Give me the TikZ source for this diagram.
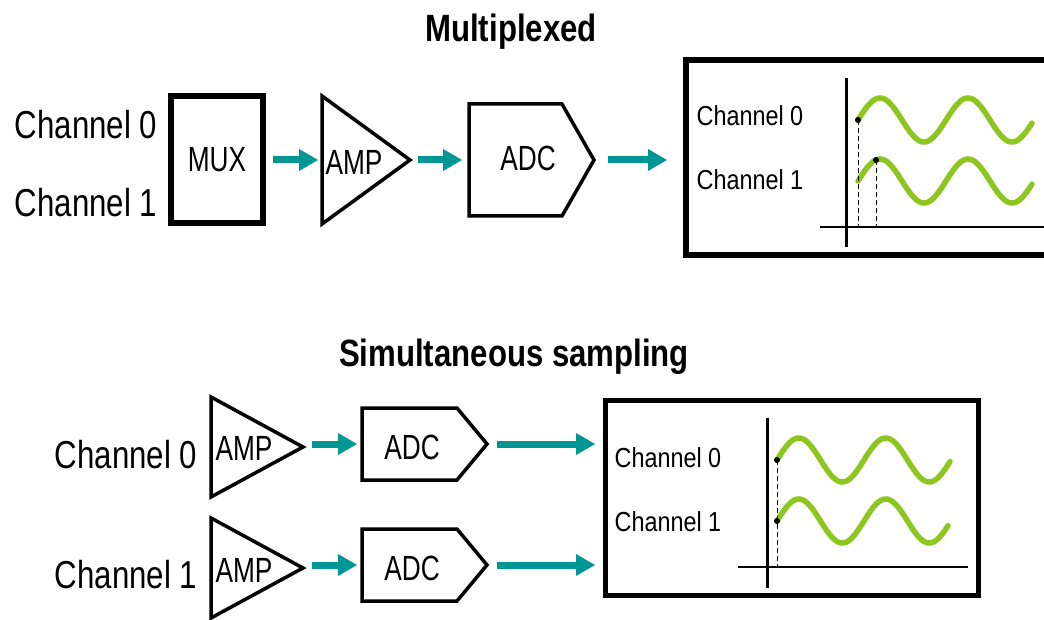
\documentclass[tikz,border=0pt]{standalone}
\usepackage{fontspec}
\newfontfamily\narrow[FakeStretch=0.8]{Liberation Sans}
\newfontfamily\blockfont[FakeStretch=0.75]{Liberation Sans}
\newfontfamily\plotfont[FakeStretch=0.85]{Liberation Sans}
\newfontfamily\headfont[FakeStretch=0.82]{Liberation Sans}
\usetikzlibrary{arrows.meta}
\definecolor{flowteal}{RGB}{0,150,150}
\definecolor{wavegreen}{RGB}{140,198,30}
\begin{document}
\begin{tikzpicture}[x=1pt,y=-1pt,
  box/.style={inner sep=0pt, outer sep=0pt},
  lbl/.style={inner sep=0pt, font={\blockfont\fontsize{35}{35}\selectfont}},
  chan/.style={inner sep=0pt, font={\narrow\fontsize{39}{39}\selectfont}},
  small/.style={inner sep=0pt, font={\plotfont\fontsize{27.5}{27.5}\selectfont}},
  title/.style={inner sep=0pt, anchor=base, font={\headfont\bfseries\fontsize{38}{38}\selectfont}},
  outline/.style={line width=3.5pt, line join=miter},
  flow/.style={draw=flowteal, line width=7pt, -{Triangle[length=19pt,width=22pt,line width=0pt]}},
  wave/.style={draw=wavegreen, line width=5.5pt, line cap=round},
  axis/.style={line width=3pt},
  guide/.style={line width=1pt, dash pattern=on 5pt off 3pt},
  sample/.style={circle, fill=black, inner sep=0pt, minimum size=6pt}]
\useasboundingbox (0,0) rectangle (1044,620);
\clip (0,0) rectangle (1044,620);

% ---------- Multiplexed ----------
\node[title] (t1) at (511,42) {Multiplexed};
\node[chan] (c0) at (86,125) {Channel 0};
\node[chan] (c1) at (86,203) {Channel 1};

\node[box, draw, line width=6pt, minimum width=92pt, minimum height=127pt, lbl] (mux) at (217,160) {MUX};

\node[box, minimum width=88pt, minimum height=128pt] (amp) at (366,160) {};
\draw[outline] (amp.north west) -- (amp.east) -- (amp.south west) -- cycle;
\node[lbl] (ampT) at (354,162) {AMP};

\node[box, minimum width=125pt, minimum height=112pt] (adc) at (531.5,160) {};
\draw[outline] (adc.north west) -- ([xshift=-32pt]adc.north east) -- (adc.east)
  -- ([xshift=-32pt]adc.south east) -- (adc.south west) -- cycle;
\node[lbl] (adcT) at (528,158) {ADC};

\node[box, draw, line width=6pt, minimum width=390pt, minimum height=195pt] (plotA) at (881,157.5) {};

\draw[flow, shorten <=10pt, shorten >=4pt] (mux.east) -- (mux.east -| amp.west);
\draw[flow, shorten <=8pt, shorten >=7pt] (amp.east) -- (amp.east -| adc.west);
\draw[flow, shorten <=14pt, shorten >=19pt] (adc.east) -- (adc.east -| plotA.west);

% sampled signals, one after the other
\node[small] (pa0) at (750,116) {Channel 0};
\node[small] (pa1) at (750,180) {Channel 1};
\draw[axis] (846,78) -- (846,247);
\draw[axis, line width=2.5pt] (820,227) -- (1050,227);
\draw[wave] plot[domain=858:1032, samples=120] (\x,{120-22*sin(4.0909*(\x-858))});
\draw[wave] plot[domain=858:1032, samples=120] (\x,{181-22*sin(4.0909*(\x-858))});
\node[sample] (sa0) at (858,120) {};
\node[sample] (sa1) at (876,160) {};
\draw[guide] (sa0.center) -- (858,228);
\draw[guide] (sa1.center) -- (876,228);

% ---------- Simultaneous sampling ----------
\node[title] (t2) at (514,366) {Simultaneous sampling};
\node[chan] (d0) at (126,455) {Channel 0};
\node[chan] (d1) at (126,575) {Channel 1};

\node[box, minimum width=92pt, minimum height=100pt] (amp0) at (257,447) {};
\draw[outline] (amp0.north west) -- (amp0.east) -- (amp0.south west) -- cycle;
\node[lbl] (amp0T) at (244,448) {AMP};
\node[box, minimum width=92pt, minimum height=100pt] (amp1) at (257,568) {};
\draw[outline] (amp1.north west) -- (amp1.east) -- (amp1.south west) -- cycle;
\node[lbl] (amp1T) at (244,570) {AMP};

\node[box, minimum width=125pt, minimum height=72pt] (adc0) at (424.5,444) {};
\draw[outline] (adc0.north west) -- ([xshift=-30pt]adc0.north east) -- (adc0.east)
  -- ([xshift=-30pt]adc0.south east) -- (adc0.south west) -- cycle;
\node[lbl] (adc0T) at (412,447) {ADC};
\node[box, minimum width=125pt, minimum height=72pt] (adc1) at (424.5,565) {};
\draw[outline] (adc1.north west) -- ([xshift=-30pt]adc1.north east) -- (adc1.east)
  -- ([xshift=-30pt]adc1.south east) -- (adc1.south west) -- cycle;
\node[lbl] (adc1T) at (412,568) {ADC};

\node[box, draw, line width=5pt, minimum width=373pt, minimum height=195pt] (plotB) at (791.5,497.5) {};

\draw[flow, shorten <=9pt, shorten >=5pt] (adc0.west -| amp0.east) -- (adc0.west);
\draw[flow, shorten <=9pt, shorten >=5pt] (adc1.west -| amp1.east) -- (adc1.west);
\draw[flow, shorten <=10pt, shorten >=10pt] (adc0.east) -- (adc0.east -| plotB.west);
\draw[flow, shorten <=10pt, shorten >=10pt] (adc1.east) -- (adc1.east -| plotB.west);

% sampled signals, at the same instant
\node[small] (pb0) at (668,458) {Channel 0};
\node[small] (pb1) at (668,522) {Channel 1};
\draw[axis] (767,418) -- (767,588);
\draw[axis, line width=2.5pt] (738,567) -- (968,567);
\draw[wave] plot[domain=777:950, samples=120] (\x,{460-22*sin(4.1379*(\x-777))});
\draw[wave] plot[domain=777:948, samples=120] (\x,{521-22*sin(4.1379*(\x-777))});
\node[sample] (sb0) at (777,460) {};
\node[sample] (sb1) at (777,521) {};
\draw[guide] (sb0.center) -- (777,567);
\end{tikzpicture}
\end{document}
